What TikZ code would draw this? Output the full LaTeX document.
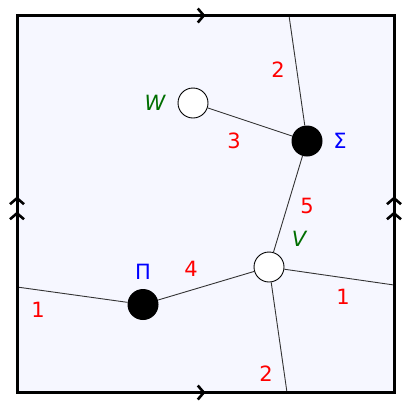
\documentclass[tikz,border=0pt]{standalone}
\usepackage{fontspec}
\setmainfont{DejaVu Sans}
\usetikzlibrary{arrows.meta,decorations.markings}
\definecolor{bgfill}{RGB}{246,247,255}
\definecolor{lblgreen}{RGB}{0,110,0}
\definecolor{lblblue}{RGB}{0,0,255}

\tikzset{
  edge/.style={line width=0.9pt,draw=black!80},
  vwhite/.style={circle,draw,fill=white,line width=0.9pt,minimum size=30pt,inner sep=0pt},
  vblack/.style={circle,fill=black,minimum size=31pt,inner sep=0pt},
  num/.style={text=red,font=\fontsize{21}{24}\selectfont},
  vname/.style={text=lblgreen,font=\fontsize{21}{24}\selectfont\itshape},
  bname/.style={text=lblblue,font=\fontsize{21}{24}\selectfont},
  barb/.tip={Straight Barb[length=6pt,width=14pt,line width=2.6pt]},
  single/.style={postaction={decorate},decoration={markings,
    mark=at position 0.5 with {\arrow{barb}}}},
  double/.style={postaction={decorate},decoration={markings,
    mark=at position 0.48 with {\arrow{barb}},
    mark=at position 0.52 with {\arrow{barb}}}},
}

\begin{document}
\begin{tikzpicture}[x=1pt,y=-1pt]
  \useasboundingbox (0,0) rectangle (404,400);
  % square
  \coordinate (bl) at (17,392.5);
  \coordinate (br) at (394,392.5);
  \coordinate (tl) at (17,15.5);
  \coordinate (tr) at (394,15.5);
  \fill[bgfill] (tl) rectangle (br);

  % ends on the boundary
  \coordinate (topend) at (289,15.5);
  \coordinate (botend) at (287,392.5);
  \coordinate (leftend) at (17,287);
  \coordinate (rightend) at (394,285);

  % vertices
  \node[vwhite] (W) at (193,103) {};
  \node[vblack] (S) at (307,141) {};
  \node[vwhite] (V) at (269,267) {};
  \node[vblack] (P) at (143,304.5) {};

  \draw[edge] (S) -- (topend);
  \draw[edge] (W) -- (S);
  \draw[edge] (S) -- (V);
  \draw[edge] (V) -- (P);
  \draw[edge] (P) -- (leftend);
  \draw[edge] (V) -- (rightend);
  \draw[edge] (V) -- (botend);

  % boundary with gluing marks
  \draw[line width=3pt,single] (tl) -- (tr);
  \draw[line width=3pt,single] (bl) -- (br);
  \draw[line width=3pt,double] (bl) -- (tl);
  \draw[line width=3pt,double] (br) -- (tr);
  \draw[line width=3pt,line cap=rect] (tl) rectangle (br);

  % labels
  \node[vname] (lW) at (155,103) {W};
  \node[bname] (lS) at (340,141) {Σ};
  \node[vname] (lV) at (299,239) {V};
  \node[bname] (lP) at (143,272) {Π};
  \node[num] (n2a) at (278,70) {2};
  \node[num] (n3) at (234,141) {3};
  \node[num] (n5) at (307,206) {5};
  \node[num] (n4) at (191,269) {4};
  \node[num] (n1a) at (38,310) {1};
  \node[num] (n1b) at (343,297) {1};
  \node[num] (n2b) at (266,374) {2};
\end{tikzpicture}
\end{document}
